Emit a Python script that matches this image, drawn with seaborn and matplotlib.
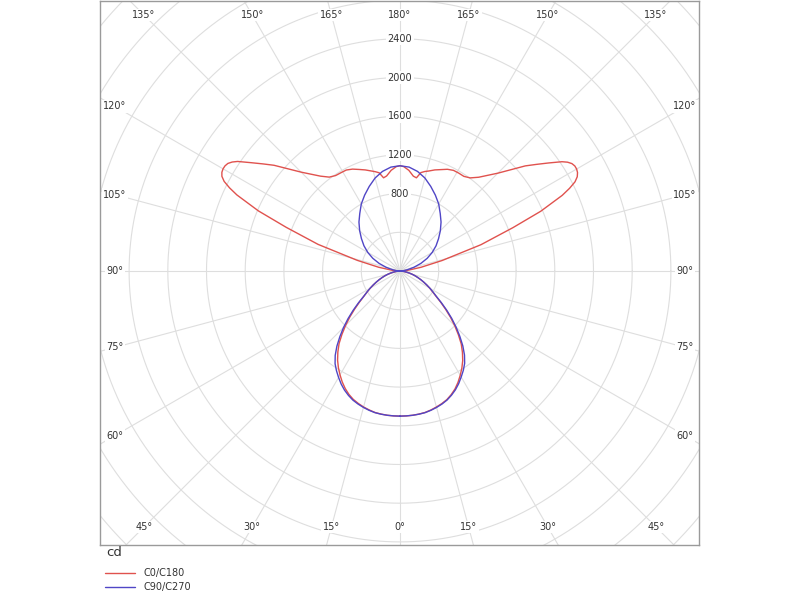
import numpy as np
import pandas as pd
import matplotlib
matplotlib.use('Agg')
import matplotlib.pyplot as plt
import seaborn as sns
from matplotlib.lines import Line2D

# Polar intensity diagram (cd), C0/C180 and C90/C270 planes
# gamma: 0 = straight down, 180 = straight up

red_gamma = [0, 2.5, 5, 7.5, 10, 12.5, 15, 17.5, 20, 22.5, 25, 27.5, 30, 32.5, 35, 37.5, 40, 42.5,
             45, 47.5, 50, 52.5, 55, 57.5, 60, 62.5, 65, 67.5, 70, 72.5, 75, 77.5, 80, 82.5, 85, 87.5, 90,
             95, 100, 104, 108, 111, 113, 115, 116, 117, 118, 119, 120, 121, 122, 123, 124, 126, 128, 130,
             135, 140, 143, 146, 149, 152, 155, 158, 161, 164, 166, 168, 170, 172, 175, 178, 180]
red_c0 = [1500, 1499, 1497, 1492, 1485, 1472, 1455, 1437, 1415, 1383, 1345, 1298, 1245, 1190, 1130, 1060,
          985, 893, 800, 707, 615, 530, 455, 402, 355, 310, 268, 230, 195, 162, 130, 100, 70, 46, 25, 10, 0,
          80, 220, 450, 880, 1250, 1580, 1850, 1950, 2030, 2075, 2098, 2108, 2108, 2095, 2065, 2020, 1900,
          1790, 1690, 1430, 1265, 1205, 1180, 1180, 1178, 1160, 1130, 1105, 1075, 1060, 1040, 978, 990,
          1045, 1080, 1088]
red_c180 = [1500, 1499, 1497, 1492, 1485, 1471, 1455, 1435, 1412, 1380, 1340, 1293, 1240, 1185, 1125, 1055,
            980, 888, 795, 703, 612, 528, 455, 402, 355, 310, 268, 230, 195, 162, 130, 100, 70, 46, 25, 10, 0,
            80, 225, 455, 890, 1260, 1590, 1860, 1960, 2040, 2085, 2105, 2112, 2110, 2098, 2068, 2025, 1905,
            1798, 1700, 1445, 1280, 1215, 1190, 1185, 1182, 1162, 1132, 1105, 1075, 1058, 1038, 978, 992,
            1045, 1080, 1088]

blue_gamma = [0, 2.5, 5, 7.5, 10, 12.5, 15, 17.5, 20, 22.5, 25, 27.5, 30, 32.5, 35, 37.5, 40, 42.5,
              45, 47.5, 50, 52.5, 55, 57.5, 60, 62.5, 65, 67.5, 70, 72.5, 75, 77.5, 80, 82.5, 85, 87.5, 90,
              95, 100, 105, 110, 115, 120, 125, 130, 135, 140, 145, 150, 155, 160, 165, 170, 175, 180]
blue_c90 = [1500, 1499, 1497, 1493, 1487, 1475, 1460, 1442, 1420, 1390, 1355, 1313, 1265, 1218, 1165, 1095,
            1010, 915, 820, 725, 630, 540, 460, 405, 358, 312, 270, 232, 195, 162, 130, 100, 70, 46, 25, 10, 0,
            35, 80, 150, 230, 310, 385, 455, 520, 590, 660, 725, 800, 865, 930, 995, 1045, 1078, 1088]
blue_c270 = [1500, 1499, 1497, 1493, 1487, 1475, 1460, 1442, 1421, 1392, 1358, 1317, 1270, 1222, 1170, 1100,
             1015, 920, 825, 728, 632, 542, 460, 405, 358, 312, 270, 232, 195, 162, 130, 100, 70, 46, 25, 10, 0,
             35, 80, 150, 230, 310, 385, 455, 520, 590, 660, 725, 800, 865, 930, 995, 1045, 1078, 1088]

ring_values = [400, 800, 1200, 1600, 2000, 2400, 2800, 3200, 3600, 4000, 4400]
ring_labels = [800, 1200, 1600, 2000, 2400]
series_names = ['C0/C180', 'C90/C270']
series_colors = ['#e0524e', '#5046c6']


def loop_xy(gamma, right, left):
    # right half goes 0 -> 180, left half comes back 180 -> 0
    g = np.radians(np.array(gamma, dtype=float))
    r1 = np.array(right, dtype=float)
    r2 = np.array(left, dtype=float)
    x = np.concatenate([r1 * np.sin(g), -(r2 * np.sin(g))[::-1]])
    y = np.concatenate([-r1 * np.cos(g), (-r2 * np.cos(g))[::-1]])
    return pd.DataFrame({'x': x, 'y': y})


df_red = loop_xy(red_gamma, red_c0, red_c180)
df_blue = loop_xy(blue_gamma, blue_c90, blue_c270)

sns.set_style('white')
plt.rcParams['font.family'] = ['DejaVu Sans']

fig = plt.figure(figsize=(8, 6), dpi=100)
ax = fig.add_axes([100 / 800, 55 / 600, 599 / 800, 544.5 / 600])

k = 400 / 38.7  # cd per pixel
ax.set_xlim(-300 * k, 299 * k)
ax.set_ylim(-274 * k, 270.5 * k)

grid_c = '#dedede'
t = np.linspace(0, 2 * np.pi, 721)
for rv in ring_values:
    ax.plot(rv * np.cos(t), rv * np.sin(t), color=grid_c, lw=0.8, zorder=1)
R = 6000
for a in range(0, 360, 15):
    ar = np.radians(a)
    ax.plot([0, R * np.sin(ar)], [0, -R * np.cos(ar)], color=grid_c, lw=0.8, zorder=1)

sns.lineplot(data=df_red, x='x', y='y', sort=False, estimator=None,
             color=series_colors[0], lw=1.0, ax=ax, zorder=3)
sns.lineplot(data=df_blue, x='x', y='y', sort=False, estimator=None,
             color=series_colors[1], lw=1.0, ax=ax, zorder=4)

txt_c = '#333333'
box = dict(facecolor='white', edgecolor='none', pad=1.0)

# angle labels on an inset rectangle
hx, hy = 285 * k, 256 * k
for a in range(0, 181, 15):
    for side in (1, -1):
        if a in (0, 180) and side == -1:
            continue
        ar = np.radians(a)
        dx, dy = side * np.sin(ar), -np.cos(ar)
        s = min(hx / abs(dx) if abs(dx) > 1e-9 else np.inf,
                hy / abs(dy) if abs(dy) > 1e-9 else np.inf)
        ax.text(dx * s, dy * s, f'{a}°', ha='center', va='center', fontsize=7,
                color=txt_c, bbox=box, zorder=5)

for rv in ring_labels:
    ax.text(0, rv, str(rv), ha='center', va='center', fontsize=7, color=txt_c,
            bbox=box, zorder=5)

ax.set_xlabel('')
ax.set_ylabel('')
ax.set_xticks([])
ax.set_yticks([])
for sp in ax.spines.values():
    sp.set_color('#9a9a9a')
    sp.set_linewidth(1.0)
    sp.set_zorder(6)

fig.text(106 / 800, 1 - 553 / 600, 'cd', fontsize=9.5, color=txt_c, va='center', ha='left')

handles = [Line2D([], [], color=c, lw=1.0) for c in series_colors]
fig.legend(handles, series_names, loc='upper left', bbox_to_anchor=(105 / 800, 1 - 568 / 600),
           frameon=False, fontsize=7, handlelength=3.1, handletextpad=0.9,
           labelspacing=0.45, borderpad=0, borderaxespad=0, labelcolor=txt_c)

fig.savefig('out.png', dpi=100, facecolor='white')
